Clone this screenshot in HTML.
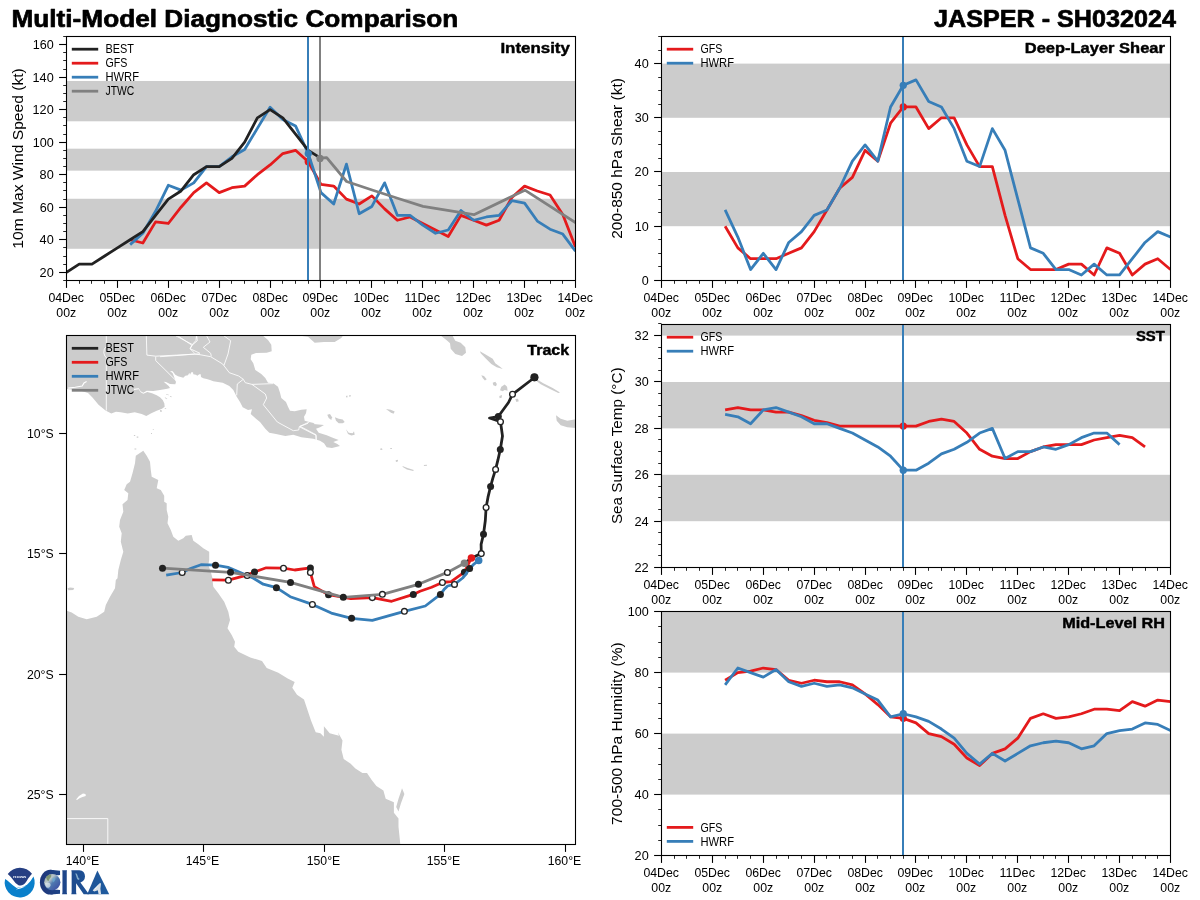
<!DOCTYPE html>
<html><head><meta charset="utf-8"><title>Multi-Model Diagnostic Comparison</title>
<style>html,body{margin:0;padding:0;background:#fff}svg{display:block;will-change:transform}text{font-family:"Liberation Sans",sans-serif;white-space:pre}</style></head>
<body>
<svg width="1200" height="900" viewBox="0 0 1200 900" font-family="'Liberation Sans', sans-serif">
<rect width="1200" height="900" fill="#fff"/>
<text x="11.50" y="26.80" font-size="24.22" font-weight="bold" stroke="#000" stroke-width="0.68" stroke-linejoin="round" textLength="446.75" lengthAdjust="spacingAndGlyphs" fill="#000">Multi-Model Diagnostic Comparison</text>
<text x="934.00" y="26.80" font-size="24.22" font-weight="bold" stroke="#000" stroke-width="0.68" stroke-linejoin="round" textLength="242.00" lengthAdjust="spacingAndGlyphs" fill="#000">JASPER - SH032024</text>
<clipPath id="c_int"><rect x="66.50" y="36.50" width="509.00" height="244.00"/></clipPath>
<g clip-path="url(#c_int)">
<rect x="66.50" y="198.77" width="509.00" height="50.00" fill="#cccccc"/>
<rect x="66.50" y="148.69" width="509.00" height="21.95" fill="#cccccc"/>
<rect x="66.50" y="80.97" width="509.00" height="40.32" fill="#cccccc"/>
<polyline points="130.12,239.75 142.85,243.00 155.57,221.86 168.30,223.49 181.02,207.23 193.75,192.60 206.47,182.84 219.19,192.60 231.92,187.72 244.64,186.09 257.37,174.71 270.09,164.95 282.82,153.57 295.54,150.32 308.27,161.70 320.99,184.47 333.71,186.09 346.44,199.10 359.16,203.98 371.89,195.85 384.61,208.86 397.34,220.24 410.06,216.99 422.79,223.49 435.51,229.99 448.24,236.50 460.96,215.36 473.68,220.24 486.41,225.12 499.13,220.24 511.86,197.47 524.58,186.09 537.31,190.97 550.03,195.03 562.76,214.55 575.48,247.07" fill="none" stroke="#e41a1c" stroke-width="2.78" stroke-linejoin="round" stroke-linecap="butt"/>
<circle cx="308.27" cy="161.70" r="3.65" fill="#e41a1c"/>
<polyline points="130.12,244.63 142.85,233.25 155.57,211.29 168.30,185.28 181.02,190.16 193.75,182.84 206.47,166.58 219.19,166.58 231.92,156.82 244.64,149.51 257.37,128.37 270.09,107.23 282.82,119.43 295.54,125.93 308.27,153.57 320.99,192.60 333.71,203.98 346.44,164.14 359.16,213.73 371.89,206.42 384.61,182.84 397.34,215.36 410.06,215.36 422.79,225.12 435.51,233.25 448.24,229.99 460.96,210.48 473.68,220.24 486.41,216.99 499.13,215.36 511.86,200.73 524.58,203.16 537.31,221.05 550.03,229.18 562.76,234.06 575.48,251.13" fill="none" stroke="#377eb8" stroke-width="2.78" stroke-linejoin="round" stroke-linecap="butt"/>
<polyline points="66.50,272.27 79.22,264.14 91.95,264.14 104.67,256.01 117.40,247.88 130.12,239.75 142.85,231.62 155.57,215.36 168.30,199.10 181.02,190.97 193.75,174.71 206.47,166.58 219.19,166.58 231.92,158.45 244.64,142.19 257.37,117.80 270.09,109.67 282.82,117.80 295.54,134.06 308.27,150.32 320.99,158.45" fill="none" stroke="#222222" stroke-width="2.78" stroke-linejoin="round" stroke-linecap="butt"/>
<polyline points="320.00,158.20 326.70,157.60 346.60,181.50 372.10,190.00 397.50,198.30 423.00,206.30 473.90,214.70 524.90,190.20 575.80,222.80" fill="none" stroke="#808080" stroke-width="2.78" stroke-linejoin="round"/>
<rect x="307.00" y="36.50" width="2" height="244.00" fill="#377eb8"/>
<rect x="319.00" y="36.50" width="2" height="244.00" fill="#808080"/>
<circle cx="308.27" cy="153.57" r="3.65" fill="#377eb8"/>
<circle cx="320.00" cy="158.45" r="3.65" fill="#808080"/>
</g>
<rect x="66.50" y="36.50" width="509.00" height="244.00" fill="none" stroke="#000" stroke-width="1.1"/>
<path d="M66.50 280.50V287.90" stroke="#000" stroke-width="1.1" fill="none"/>
<text x="48.39" y="301.80" font-size="12.67" textLength="35.62" lengthAdjust="spacingAndGlyphs" fill="#000">04Dec</text>
<text x="56.31" y="316.50" font-size="12.67" textLength="19.88" lengthAdjust="spacingAndGlyphs" fill="#000">00z</text>
<path d="M117.50 280.50V287.90" stroke="#000" stroke-width="1.1" fill="none"/>
<text x="99.45" y="301.80" font-size="12.67" textLength="35.50" lengthAdjust="spacingAndGlyphs" fill="#000">05Dec</text>
<text x="107.31" y="316.50" font-size="12.67" textLength="19.88" lengthAdjust="spacingAndGlyphs" fill="#000">00z</text>
<path d="M168.50 280.50V287.90" stroke="#000" stroke-width="1.1" fill="none"/>
<text x="150.45" y="301.80" font-size="12.67" textLength="35.50" lengthAdjust="spacingAndGlyphs" fill="#000">06Dec</text>
<text x="158.31" y="316.50" font-size="12.67" textLength="19.88" lengthAdjust="spacingAndGlyphs" fill="#000">00z</text>
<path d="M219.50 280.50V287.90" stroke="#000" stroke-width="1.1" fill="none"/>
<text x="201.39" y="301.80" font-size="12.67" textLength="35.62" lengthAdjust="spacingAndGlyphs" fill="#000">07Dec</text>
<text x="209.31" y="316.50" font-size="12.67" textLength="19.88" lengthAdjust="spacingAndGlyphs" fill="#000">00z</text>
<path d="M270.50 280.50V287.90" stroke="#000" stroke-width="1.1" fill="none"/>
<text x="252.39" y="301.80" font-size="12.67" textLength="35.62" lengthAdjust="spacingAndGlyphs" fill="#000">08Dec</text>
<text x="260.31" y="316.50" font-size="12.67" textLength="19.88" lengthAdjust="spacingAndGlyphs" fill="#000">00z</text>
<path d="M320.50 280.50V287.90" stroke="#000" stroke-width="1.1" fill="none"/>
<text x="302.39" y="301.80" font-size="12.67" textLength="35.62" lengthAdjust="spacingAndGlyphs" fill="#000">09Dec</text>
<text x="310.31" y="316.50" font-size="12.67" textLength="19.88" lengthAdjust="spacingAndGlyphs" fill="#000">00z</text>
<path d="M371.50 280.50V287.90" stroke="#000" stroke-width="1.1" fill="none"/>
<text x="353.45" y="301.80" font-size="12.67" textLength="35.50" lengthAdjust="spacingAndGlyphs" fill="#000">10Dec</text>
<text x="361.31" y="316.50" font-size="12.67" textLength="19.88" lengthAdjust="spacingAndGlyphs" fill="#000">00z</text>
<path d="M422.50 280.50V287.90" stroke="#000" stroke-width="1.1" fill="none"/>
<text x="404.45" y="301.80" font-size="12.67" textLength="35.50" lengthAdjust="spacingAndGlyphs" fill="#000">11Dec</text>
<text x="412.31" y="316.50" font-size="12.67" textLength="19.88" lengthAdjust="spacingAndGlyphs" fill="#000">00z</text>
<path d="M473.50 280.50V287.90" stroke="#000" stroke-width="1.1" fill="none"/>
<text x="455.39" y="301.80" font-size="12.67" textLength="35.62" lengthAdjust="spacingAndGlyphs" fill="#000">12Dec</text>
<text x="463.31" y="316.50" font-size="12.67" textLength="19.88" lengthAdjust="spacingAndGlyphs" fill="#000">00z</text>
<path d="M524.50 280.50V287.90" stroke="#000" stroke-width="1.1" fill="none"/>
<text x="506.45" y="301.80" font-size="12.67" textLength="35.50" lengthAdjust="spacingAndGlyphs" fill="#000">13Dec</text>
<text x="514.31" y="316.50" font-size="12.67" textLength="19.88" lengthAdjust="spacingAndGlyphs" fill="#000">00z</text>
<path d="M575.50 280.50V287.90" stroke="#000" stroke-width="1.1" fill="none"/>
<text x="557.39" y="301.80" font-size="12.67" textLength="35.62" lengthAdjust="spacingAndGlyphs" fill="#000">14Dec</text>
<text x="565.31" y="316.50" font-size="12.67" textLength="19.88" lengthAdjust="spacingAndGlyphs" fill="#000">00z</text>
<path d="M79.50 280.50V283.80" stroke="#000" stroke-width="0.85" fill="none"/>
<path d="M91.50 280.50V283.80" stroke="#000" stroke-width="0.85" fill="none"/>
<path d="M104.50 280.50V283.80" stroke="#000" stroke-width="0.85" fill="none"/>
<path d="M130.50 280.50V283.80" stroke="#000" stroke-width="0.85" fill="none"/>
<path d="M142.50 280.50V283.80" stroke="#000" stroke-width="0.85" fill="none"/>
<path d="M155.50 280.50V283.80" stroke="#000" stroke-width="0.85" fill="none"/>
<path d="M181.50 280.50V283.80" stroke="#000" stroke-width="0.85" fill="none"/>
<path d="M193.50 280.50V283.80" stroke="#000" stroke-width="0.85" fill="none"/>
<path d="M206.50 280.50V283.80" stroke="#000" stroke-width="0.85" fill="none"/>
<path d="M231.50 280.50V283.80" stroke="#000" stroke-width="0.85" fill="none"/>
<path d="M244.50 280.50V283.80" stroke="#000" stroke-width="0.85" fill="none"/>
<path d="M257.50 280.50V283.80" stroke="#000" stroke-width="0.85" fill="none"/>
<path d="M282.50 280.50V283.80" stroke="#000" stroke-width="0.85" fill="none"/>
<path d="M295.50 280.50V283.80" stroke="#000" stroke-width="0.85" fill="none"/>
<path d="M308.50 280.50V283.80" stroke="#000" stroke-width="0.85" fill="none"/>
<path d="M333.50 280.50V283.80" stroke="#000" stroke-width="0.85" fill="none"/>
<path d="M346.50 280.50V283.80" stroke="#000" stroke-width="0.85" fill="none"/>
<path d="M359.50 280.50V283.80" stroke="#000" stroke-width="0.85" fill="none"/>
<path d="M384.50 280.50V283.80" stroke="#000" stroke-width="0.85" fill="none"/>
<path d="M397.50 280.50V283.80" stroke="#000" stroke-width="0.85" fill="none"/>
<path d="M410.50 280.50V283.80" stroke="#000" stroke-width="0.85" fill="none"/>
<path d="M435.50 280.50V283.80" stroke="#000" stroke-width="0.85" fill="none"/>
<path d="M448.50 280.50V283.80" stroke="#000" stroke-width="0.85" fill="none"/>
<path d="M460.50 280.50V283.80" stroke="#000" stroke-width="0.85" fill="none"/>
<path d="M486.50 280.50V283.80" stroke="#000" stroke-width="0.85" fill="none"/>
<path d="M499.50 280.50V283.80" stroke="#000" stroke-width="0.85" fill="none"/>
<path d="M511.50 280.50V283.80" stroke="#000" stroke-width="0.85" fill="none"/>
<path d="M537.50 280.50V283.80" stroke="#000" stroke-width="0.85" fill="none"/>
<path d="M550.50 280.50V283.80" stroke="#000" stroke-width="0.85" fill="none"/>
<path d="M562.50 280.50V283.80" stroke="#000" stroke-width="0.85" fill="none"/>
<path d="M59.10 272.50H66.50" stroke="#000" stroke-width="1.1" fill="none"/>
<text x="39.58" y="276.70" font-size="12.67" textLength="14.12" lengthAdjust="spacingAndGlyphs" fill="#000">20</text>
<path d="M59.10 239.50H66.50" stroke="#000" stroke-width="1.1" fill="none"/>
<text x="39.58" y="243.70" font-size="12.67" textLength="14.12" lengthAdjust="spacingAndGlyphs" fill="#000">40</text>
<path d="M59.10 207.50H66.50" stroke="#000" stroke-width="1.1" fill="none"/>
<text x="39.70" y="211.70" font-size="12.67" textLength="14.00" lengthAdjust="spacingAndGlyphs" fill="#000">60</text>
<path d="M59.10 174.50H66.50" stroke="#000" stroke-width="1.1" fill="none"/>
<text x="39.58" y="178.70" font-size="12.67" textLength="14.12" lengthAdjust="spacingAndGlyphs" fill="#000">80</text>
<path d="M59.10 142.50H66.50" stroke="#000" stroke-width="1.1" fill="none"/>
<text x="32.70" y="146.70" font-size="12.67" textLength="21.00" lengthAdjust="spacingAndGlyphs" fill="#000">100</text>
<path d="M59.10 109.50H66.50" stroke="#000" stroke-width="1.1" fill="none"/>
<text x="32.58" y="113.70" font-size="12.67" textLength="21.12" lengthAdjust="spacingAndGlyphs" fill="#000">120</text>
<path d="M59.10 77.50H66.50" stroke="#000" stroke-width="1.1" fill="none"/>
<text x="32.58" y="81.70" font-size="12.67" textLength="21.12" lengthAdjust="spacingAndGlyphs" fill="#000">140</text>
<path d="M59.10 44.50H66.50" stroke="#000" stroke-width="1.1" fill="none"/>
<text x="32.70" y="48.70" font-size="12.67" textLength="21.00" lengthAdjust="spacingAndGlyphs" fill="#000">160</text>
<path d="M63.20 280.50H66.50" stroke="#000" stroke-width="0.85" fill="none"/>
<path d="M63.20 264.50H66.50" stroke="#000" stroke-width="0.85" fill="none"/>
<path d="M63.20 256.50H66.50" stroke="#000" stroke-width="0.85" fill="none"/>
<path d="M63.20 247.50H66.50" stroke="#000" stroke-width="0.85" fill="none"/>
<path d="M63.20 231.50H66.50" stroke="#000" stroke-width="0.85" fill="none"/>
<path d="M63.20 223.50H66.50" stroke="#000" stroke-width="0.85" fill="none"/>
<path d="M63.20 215.50H66.50" stroke="#000" stroke-width="0.85" fill="none"/>
<path d="M63.20 199.50H66.50" stroke="#000" stroke-width="0.85" fill="none"/>
<path d="M63.20 190.50H66.50" stroke="#000" stroke-width="0.85" fill="none"/>
<path d="M63.20 182.50H66.50" stroke="#000" stroke-width="0.85" fill="none"/>
<path d="M63.20 166.50H66.50" stroke="#000" stroke-width="0.85" fill="none"/>
<path d="M63.20 158.50H66.50" stroke="#000" stroke-width="0.85" fill="none"/>
<path d="M63.20 150.50H66.50" stroke="#000" stroke-width="0.85" fill="none"/>
<path d="M63.20 134.50H66.50" stroke="#000" stroke-width="0.85" fill="none"/>
<path d="M63.20 125.50H66.50" stroke="#000" stroke-width="0.85" fill="none"/>
<path d="M63.20 117.50H66.50" stroke="#000" stroke-width="0.85" fill="none"/>
<path d="M63.20 101.50H66.50" stroke="#000" stroke-width="0.85" fill="none"/>
<path d="M63.20 93.50H66.50" stroke="#000" stroke-width="0.85" fill="none"/>
<path d="M63.20 85.50H66.50" stroke="#000" stroke-width="0.85" fill="none"/>
<path d="M63.20 69.50H66.50" stroke="#000" stroke-width="0.85" fill="none"/>
<path d="M63.20 60.50H66.50" stroke="#000" stroke-width="0.85" fill="none"/>
<path d="M63.20 52.50H66.50" stroke="#000" stroke-width="0.85" fill="none"/>
<path d="M63.20 36.50H66.50" stroke="#000" stroke-width="0.85" fill="none"/>
<text transform="translate(22.60,248.70) rotate(-90)" font-size="15.56" textLength="180.50" lengthAdjust="spacingAndGlyphs" fill="#000">10m Max Wind Speed (kt)</text>
<text x="500.40" y="53.30" font-size="15.56" font-weight="bold" stroke="#000" stroke-width="0.44" stroke-linejoin="round" textLength="69.50" lengthAdjust="spacingAndGlyphs" fill="#000">Intensity</text>
<path d="M71.80 49.20H98.20" stroke="#222222" stroke-width="2.78"/>
<text x="105.50" y="53.30" font-size="12.67" textLength="28.50" lengthAdjust="spacingAndGlyphs" fill="#000">BEST</text>
<path d="M71.80 63.20H98.20" stroke="#e41a1c" stroke-width="2.78"/>
<text x="105.50" y="67.30" font-size="12.67" textLength="21.88" lengthAdjust="spacingAndGlyphs" fill="#000">GFS</text>
<path d="M71.80 77.20H98.20" stroke="#377eb8" stroke-width="2.78"/>
<text x="105.50" y="81.30" font-size="12.67" textLength="33.50" lengthAdjust="spacingAndGlyphs" fill="#000">HWRF</text>
<path d="M71.80 91.20H98.20" stroke="#808080" stroke-width="2.78"/>
<text x="105.50" y="95.30" font-size="12.67" textLength="28.75" lengthAdjust="spacingAndGlyphs" fill="#000">JTWC</text>
<clipPath id="c_shr"><rect x="661.50" y="36.50" width="509.00" height="244.00"/></clipPath>
<g clip-path="url(#c_shr)">
<rect x="661.50" y="172.00" width="509.00" height="54.20" fill="#cccccc"/>
<rect x="661.50" y="63.60" width="509.00" height="54.20" fill="#cccccc"/>
<polyline points="725.12,226.20 737.85,247.88 750.57,258.72 763.30,258.72 776.02,258.72 788.75,253.30 801.47,247.88 814.19,231.62 826.92,209.94 839.64,188.26 852.37,177.42 865.09,150.32 877.82,161.16 890.54,123.22 903.27,106.96 915.99,106.96 928.71,128.64 941.44,117.80 954.16,117.80 966.89,144.90 979.61,166.58 992.34,166.58 1005.06,215.36 1017.79,258.72 1030.51,269.56 1043.24,269.56 1055.96,269.56 1068.68,264.14 1081.41,264.14 1094.13,274.98 1106.86,247.88 1119.58,253.30 1132.31,274.98 1145.03,264.14 1157.76,258.72 1170.48,269.56" fill="none" stroke="#e41a1c" stroke-width="2.78" stroke-linejoin="round" stroke-linecap="butt"/>
<circle cx="903.27" cy="106.96" r="3.65" fill="#e41a1c"/>
<polyline points="725.12,209.94 737.85,237.04 750.57,269.56 763.30,253.30 776.02,269.56 788.75,242.46 801.47,231.62 814.19,215.36 826.92,209.94 839.64,188.26 852.37,161.16 865.09,144.90 877.82,161.16 890.54,106.96 903.27,85.28 915.99,79.86 928.71,101.54 941.44,106.96 954.16,128.64 966.89,161.16 979.61,166.58 992.34,128.64 1005.06,150.32 1017.79,199.10 1030.51,247.88 1043.24,253.30 1055.96,269.56 1068.68,269.56 1081.41,274.98 1094.13,264.14 1106.86,274.98 1119.58,274.98 1132.31,258.72 1145.03,242.46 1157.76,231.62 1170.48,237.04" fill="none" stroke="#377eb8" stroke-width="2.78" stroke-linejoin="round" stroke-linecap="butt"/>
<rect x="902.00" y="36.50" width="2" height="244.00" fill="#377eb8"/>
<circle cx="903.27" cy="85.28" r="3.65" fill="#377eb8"/>
</g>
<rect x="661.50" y="36.50" width="509.00" height="244.00" fill="none" stroke="#000" stroke-width="1.1"/>
<path d="M661.50 280.50V287.90" stroke="#000" stroke-width="1.1" fill="none"/>
<text x="643.39" y="301.80" font-size="12.67" textLength="35.62" lengthAdjust="spacingAndGlyphs" fill="#000">04Dec</text>
<text x="651.31" y="316.50" font-size="12.67" textLength="19.88" lengthAdjust="spacingAndGlyphs" fill="#000">00z</text>
<path d="M712.50 280.50V287.90" stroke="#000" stroke-width="1.1" fill="none"/>
<text x="694.45" y="301.80" font-size="12.67" textLength="35.50" lengthAdjust="spacingAndGlyphs" fill="#000">05Dec</text>
<text x="702.31" y="316.50" font-size="12.67" textLength="19.88" lengthAdjust="spacingAndGlyphs" fill="#000">00z</text>
<path d="M763.50 280.50V287.90" stroke="#000" stroke-width="1.1" fill="none"/>
<text x="745.45" y="301.80" font-size="12.67" textLength="35.50" lengthAdjust="spacingAndGlyphs" fill="#000">06Dec</text>
<text x="753.31" y="316.50" font-size="12.67" textLength="19.88" lengthAdjust="spacingAndGlyphs" fill="#000">00z</text>
<path d="M814.50 280.50V287.90" stroke="#000" stroke-width="1.1" fill="none"/>
<text x="796.39" y="301.80" font-size="12.67" textLength="35.62" lengthAdjust="spacingAndGlyphs" fill="#000">07Dec</text>
<text x="804.31" y="316.50" font-size="12.67" textLength="19.88" lengthAdjust="spacingAndGlyphs" fill="#000">00z</text>
<path d="M865.50 280.50V287.90" stroke="#000" stroke-width="1.1" fill="none"/>
<text x="847.39" y="301.80" font-size="12.67" textLength="35.62" lengthAdjust="spacingAndGlyphs" fill="#000">08Dec</text>
<text x="855.31" y="316.50" font-size="12.67" textLength="19.88" lengthAdjust="spacingAndGlyphs" fill="#000">00z</text>
<path d="M915.50 280.50V287.90" stroke="#000" stroke-width="1.1" fill="none"/>
<text x="897.39" y="301.80" font-size="12.67" textLength="35.62" lengthAdjust="spacingAndGlyphs" fill="#000">09Dec</text>
<text x="905.31" y="316.50" font-size="12.67" textLength="19.88" lengthAdjust="spacingAndGlyphs" fill="#000">00z</text>
<path d="M966.50 280.50V287.90" stroke="#000" stroke-width="1.1" fill="none"/>
<text x="948.45" y="301.80" font-size="12.67" textLength="35.50" lengthAdjust="spacingAndGlyphs" fill="#000">10Dec</text>
<text x="956.31" y="316.50" font-size="12.67" textLength="19.88" lengthAdjust="spacingAndGlyphs" fill="#000">00z</text>
<path d="M1017.50 280.50V287.90" stroke="#000" stroke-width="1.1" fill="none"/>
<text x="999.45" y="301.80" font-size="12.67" textLength="35.50" lengthAdjust="spacingAndGlyphs" fill="#000">11Dec</text>
<text x="1007.31" y="316.50" font-size="12.67" textLength="19.88" lengthAdjust="spacingAndGlyphs" fill="#000">00z</text>
<path d="M1068.50 280.50V287.90" stroke="#000" stroke-width="1.1" fill="none"/>
<text x="1050.39" y="301.80" font-size="12.67" textLength="35.62" lengthAdjust="spacingAndGlyphs" fill="#000">12Dec</text>
<text x="1058.31" y="316.50" font-size="12.67" textLength="19.88" lengthAdjust="spacingAndGlyphs" fill="#000">00z</text>
<path d="M1119.50 280.50V287.90" stroke="#000" stroke-width="1.1" fill="none"/>
<text x="1101.45" y="301.80" font-size="12.67" textLength="35.50" lengthAdjust="spacingAndGlyphs" fill="#000">13Dec</text>
<text x="1109.31" y="316.50" font-size="12.67" textLength="19.88" lengthAdjust="spacingAndGlyphs" fill="#000">00z</text>
<path d="M1170.50 280.50V287.90" stroke="#000" stroke-width="1.1" fill="none"/>
<text x="1152.39" y="301.80" font-size="12.67" textLength="35.62" lengthAdjust="spacingAndGlyphs" fill="#000">14Dec</text>
<text x="1160.31" y="316.50" font-size="12.67" textLength="19.88" lengthAdjust="spacingAndGlyphs" fill="#000">00z</text>
<path d="M674.50 280.50V283.80" stroke="#000" stroke-width="0.85" fill="none"/>
<path d="M686.50 280.50V283.80" stroke="#000" stroke-width="0.85" fill="none"/>
<path d="M699.50 280.50V283.80" stroke="#000" stroke-width="0.85" fill="none"/>
<path d="M725.50 280.50V283.80" stroke="#000" stroke-width="0.85" fill="none"/>
<path d="M737.50 280.50V283.80" stroke="#000" stroke-width="0.85" fill="none"/>
<path d="M750.50 280.50V283.80" stroke="#000" stroke-width="0.85" fill="none"/>
<path d="M776.50 280.50V283.80" stroke="#000" stroke-width="0.85" fill="none"/>
<path d="M788.50 280.50V283.80" stroke="#000" stroke-width="0.85" fill="none"/>
<path d="M801.50 280.50V283.80" stroke="#000" stroke-width="0.85" fill="none"/>
<path d="M826.50 280.50V283.80" stroke="#000" stroke-width="0.85" fill="none"/>
<path d="M839.50 280.50V283.80" stroke="#000" stroke-width="0.85" fill="none"/>
<path d="M852.50 280.50V283.80" stroke="#000" stroke-width="0.85" fill="none"/>
<path d="M877.50 280.50V283.80" stroke="#000" stroke-width="0.85" fill="none"/>
<path d="M890.50 280.50V283.80" stroke="#000" stroke-width="0.85" fill="none"/>
<path d="M903.50 280.50V283.80" stroke="#000" stroke-width="0.85" fill="none"/>
<path d="M928.50 280.50V283.80" stroke="#000" stroke-width="0.85" fill="none"/>
<path d="M941.50 280.50V283.80" stroke="#000" stroke-width="0.85" fill="none"/>
<path d="M954.50 280.50V283.80" stroke="#000" stroke-width="0.85" fill="none"/>
<path d="M979.50 280.50V283.80" stroke="#000" stroke-width="0.85" fill="none"/>
<path d="M992.50 280.50V283.80" stroke="#000" stroke-width="0.85" fill="none"/>
<path d="M1005.50 280.50V283.80" stroke="#000" stroke-width="0.85" fill="none"/>
<path d="M1030.50 280.50V283.80" stroke="#000" stroke-width="0.85" fill="none"/>
<path d="M1043.50 280.50V283.80" stroke="#000" stroke-width="0.85" fill="none"/>
<path d="M1055.50 280.50V283.80" stroke="#000" stroke-width="0.85" fill="none"/>
<path d="M1081.50 280.50V283.80" stroke="#000" stroke-width="0.85" fill="none"/>
<path d="M1094.50 280.50V283.80" stroke="#000" stroke-width="0.85" fill="none"/>
<path d="M1106.50 280.50V283.80" stroke="#000" stroke-width="0.85" fill="none"/>
<path d="M1132.50 280.50V283.80" stroke="#000" stroke-width="0.85" fill="none"/>
<path d="M1145.50 280.50V283.80" stroke="#000" stroke-width="0.85" fill="none"/>
<path d="M1157.50 280.50V283.80" stroke="#000" stroke-width="0.85" fill="none"/>
<path d="M654.10 280.50H661.50" stroke="#000" stroke-width="1.1" fill="none"/>
<text x="641.70" y="284.70" font-size="12.67" textLength="7.00" lengthAdjust="spacingAndGlyphs" fill="#000">0</text>
<path d="M654.10 226.50H661.50" stroke="#000" stroke-width="1.1" fill="none"/>
<text x="634.70" y="230.70" font-size="12.67" textLength="14.00" lengthAdjust="spacingAndGlyphs" fill="#000">10</text>
<path d="M654.10 171.50H661.50" stroke="#000" stroke-width="1.1" fill="none"/>
<text x="634.58" y="175.70" font-size="12.67" textLength="14.12" lengthAdjust="spacingAndGlyphs" fill="#000">20</text>
<path d="M654.10 117.50H661.50" stroke="#000" stroke-width="1.1" fill="none"/>
<text x="634.70" y="121.70" font-size="12.67" textLength="14.00" lengthAdjust="spacingAndGlyphs" fill="#000">30</text>
<path d="M654.10 63.50H661.50" stroke="#000" stroke-width="1.1" fill="none"/>
<text x="634.58" y="67.70" font-size="12.67" textLength="14.12" lengthAdjust="spacingAndGlyphs" fill="#000">40</text>
<path d="M658.20 266.50H661.50" stroke="#000" stroke-width="0.85" fill="none"/>
<path d="M658.20 253.50H661.50" stroke="#000" stroke-width="0.85" fill="none"/>
<path d="M658.20 239.50H661.50" stroke="#000" stroke-width="0.85" fill="none"/>
<path d="M658.20 212.50H661.50" stroke="#000" stroke-width="0.85" fill="none"/>
<path d="M658.20 199.50H661.50" stroke="#000" stroke-width="0.85" fill="none"/>
<path d="M658.20 185.50H661.50" stroke="#000" stroke-width="0.85" fill="none"/>
<path d="M658.20 158.50H661.50" stroke="#000" stroke-width="0.85" fill="none"/>
<path d="M658.20 144.50H661.50" stroke="#000" stroke-width="0.85" fill="none"/>
<path d="M658.20 131.50H661.50" stroke="#000" stroke-width="0.85" fill="none"/>
<path d="M658.20 104.50H661.50" stroke="#000" stroke-width="0.85" fill="none"/>
<path d="M658.20 90.50H661.50" stroke="#000" stroke-width="0.85" fill="none"/>
<path d="M658.20 77.50H661.50" stroke="#000" stroke-width="0.85" fill="none"/>
<path d="M658.20 50.50H661.50" stroke="#000" stroke-width="0.85" fill="none"/>
<path d="M658.20 36.50H661.50" stroke="#000" stroke-width="0.85" fill="none"/>
<text transform="translate(622.30,238.76) rotate(-90)" font-size="15.56" textLength="160.62" lengthAdjust="spacingAndGlyphs" fill="#000">200-850 hPa Shear (kt)</text>
<text x="1024.78" y="53.30" font-size="15.56" font-weight="bold" stroke="#000" stroke-width="0.44" stroke-linejoin="round" textLength="140.12" lengthAdjust="spacingAndGlyphs" fill="#000">Deep-Layer Shear</text>
<path d="M666.80 49.20H693.20" stroke="#e41a1c" stroke-width="2.78"/>
<text x="700.50" y="53.30" font-size="12.67" textLength="21.88" lengthAdjust="spacingAndGlyphs" fill="#000">GFS</text>
<path d="M666.80 63.20H693.20" stroke="#377eb8" stroke-width="2.78"/>
<text x="700.50" y="67.30" font-size="12.67" textLength="33.50" lengthAdjust="spacingAndGlyphs" fill="#000">HWRF</text>
<clipPath id="c_sst"><rect x="661.50" y="324.50" width="509.00" height="243.00"/></clipPath>
<g clip-path="url(#c_sst)">
<rect x="661.50" y="474.80" width="509.00" height="46.40" fill="#cccccc"/>
<rect x="661.50" y="382.00" width="509.00" height="46.40" fill="#cccccc"/>
<rect x="661.50" y="312.40" width="509.00" height="23.20" fill="#cccccc"/>
<polyline points="725.12,409.84 737.85,407.52 750.57,409.84 763.30,409.84 776.02,412.16 788.75,412.16 801.47,415.64 814.19,420.28 826.92,422.60 839.64,426.08 852.37,426.08 865.09,426.08 877.82,426.08 890.54,426.08 903.27,426.08 915.99,426.08 928.71,421.44 941.44,419.12 954.16,421.44 966.89,433.04 979.61,449.28 992.34,456.24 1005.06,458.56 1017.79,458.56 1030.51,451.60 1043.24,446.96 1055.96,444.64 1068.68,444.64 1081.41,444.64 1094.13,440.00 1106.86,437.68 1119.58,435.36 1132.31,437.68 1145.03,446.96" fill="none" stroke="#e41a1c" stroke-width="2.78" stroke-linejoin="round" stroke-linecap="butt"/>
<circle cx="903.27" cy="426.08" r="3.65" fill="#e41a1c"/>
<polyline points="725.12,414.48 737.85,416.80 750.57,423.76 763.30,409.84 776.02,407.52 788.75,412.16 801.47,416.80 814.19,423.76 826.92,423.76 839.64,428.40 852.37,433.04 865.09,440.00 877.82,446.96 890.54,456.24 903.27,470.16 915.99,470.16 928.71,463.20 941.44,453.92 954.16,449.28 966.89,442.32 979.61,433.04 992.34,428.40 1005.06,458.56 1017.79,451.60 1030.51,451.60 1043.24,446.96 1055.96,449.28 1068.68,444.64 1081.41,437.68 1094.13,433.04 1106.86,433.04 1119.58,444.64" fill="none" stroke="#377eb8" stroke-width="2.78" stroke-linejoin="round" stroke-linecap="butt"/>
<rect x="902.00" y="324.50" width="2" height="243.00" fill="#377eb8"/>
<circle cx="903.27" cy="470.16" r="3.65" fill="#377eb8"/>
</g>
<rect x="661.50" y="324.50" width="509.00" height="243.00" fill="none" stroke="#000" stroke-width="1.1"/>
<path d="M661.50 567.50V574.90" stroke="#000" stroke-width="1.1" fill="none"/>
<text x="643.39" y="588.80" font-size="12.67" textLength="35.62" lengthAdjust="spacingAndGlyphs" fill="#000">04Dec</text>
<text x="651.31" y="603.50" font-size="12.67" textLength="19.88" lengthAdjust="spacingAndGlyphs" fill="#000">00z</text>
<path d="M712.50 567.50V574.90" stroke="#000" stroke-width="1.1" fill="none"/>
<text x="694.45" y="588.80" font-size="12.67" textLength="35.50" lengthAdjust="spacingAndGlyphs" fill="#000">05Dec</text>
<text x="702.31" y="603.50" font-size="12.67" textLength="19.88" lengthAdjust="spacingAndGlyphs" fill="#000">00z</text>
<path d="M763.50 567.50V574.90" stroke="#000" stroke-width="1.1" fill="none"/>
<text x="745.45" y="588.80" font-size="12.67" textLength="35.50" lengthAdjust="spacingAndGlyphs" fill="#000">06Dec</text>
<text x="753.31" y="603.50" font-size="12.67" textLength="19.88" lengthAdjust="spacingAndGlyphs" fill="#000">00z</text>
<path d="M814.50 567.50V574.90" stroke="#000" stroke-width="1.1" fill="none"/>
<text x="796.39" y="588.80" font-size="12.67" textLength="35.62" lengthAdjust="spacingAndGlyphs" fill="#000">07Dec</text>
<text x="804.31" y="603.50" font-size="12.67" textLength="19.88" lengthAdjust="spacingAndGlyphs" fill="#000">00z</text>
<path d="M865.50 567.50V574.90" stroke="#000" stroke-width="1.1" fill="none"/>
<text x="847.39" y="588.80" font-size="12.67" textLength="35.62" lengthAdjust="spacingAndGlyphs" fill="#000">08Dec</text>
<text x="855.31" y="603.50" font-size="12.67" textLength="19.88" lengthAdjust="spacingAndGlyphs" fill="#000">00z</text>
<path d="M915.50 567.50V574.90" stroke="#000" stroke-width="1.1" fill="none"/>
<text x="897.39" y="588.80" font-size="12.67" textLength="35.62" lengthAdjust="spacingAndGlyphs" fill="#000">09Dec</text>
<text x="905.31" y="603.50" font-size="12.67" textLength="19.88" lengthAdjust="spacingAndGlyphs" fill="#000">00z</text>
<path d="M966.50 567.50V574.90" stroke="#000" stroke-width="1.1" fill="none"/>
<text x="948.45" y="588.80" font-size="12.67" textLength="35.50" lengthAdjust="spacingAndGlyphs" fill="#000">10Dec</text>
<text x="956.31" y="603.50" font-size="12.67" textLength="19.88" lengthAdjust="spacingAndGlyphs" fill="#000">00z</text>
<path d="M1017.50 567.50V574.90" stroke="#000" stroke-width="1.1" fill="none"/>
<text x="999.45" y="588.80" font-size="12.67" textLength="35.50" lengthAdjust="spacingAndGlyphs" fill="#000">11Dec</text>
<text x="1007.31" y="603.50" font-size="12.67" textLength="19.88" lengthAdjust="spacingAndGlyphs" fill="#000">00z</text>
<path d="M1068.50 567.50V574.90" stroke="#000" stroke-width="1.1" fill="none"/>
<text x="1050.39" y="588.80" font-size="12.67" textLength="35.62" lengthAdjust="spacingAndGlyphs" fill="#000">12Dec</text>
<text x="1058.31" y="603.50" font-size="12.67" textLength="19.88" lengthAdjust="spacingAndGlyphs" fill="#000">00z</text>
<path d="M1119.50 567.50V574.90" stroke="#000" stroke-width="1.1" fill="none"/>
<text x="1101.45" y="588.80" font-size="12.67" textLength="35.50" lengthAdjust="spacingAndGlyphs" fill="#000">13Dec</text>
<text x="1109.31" y="603.50" font-size="12.67" textLength="19.88" lengthAdjust="spacingAndGlyphs" fill="#000">00z</text>
<path d="M1170.50 567.50V574.90" stroke="#000" stroke-width="1.1" fill="none"/>
<text x="1152.39" y="588.80" font-size="12.67" textLength="35.62" lengthAdjust="spacingAndGlyphs" fill="#000">14Dec</text>
<text x="1160.31" y="603.50" font-size="12.67" textLength="19.88" lengthAdjust="spacingAndGlyphs" fill="#000">00z</text>
<path d="M674.50 567.50V570.80" stroke="#000" stroke-width="0.85" fill="none"/>
<path d="M686.50 567.50V570.80" stroke="#000" stroke-width="0.85" fill="none"/>
<path d="M699.50 567.50V570.80" stroke="#000" stroke-width="0.85" fill="none"/>
<path d="M725.50 567.50V570.80" stroke="#000" stroke-width="0.85" fill="none"/>
<path d="M737.50 567.50V570.80" stroke="#000" stroke-width="0.85" fill="none"/>
<path d="M750.50 567.50V570.80" stroke="#000" stroke-width="0.85" fill="none"/>
<path d="M776.50 567.50V570.80" stroke="#000" stroke-width="0.85" fill="none"/>
<path d="M788.50 567.50V570.80" stroke="#000" stroke-width="0.85" fill="none"/>
<path d="M801.50 567.50V570.80" stroke="#000" stroke-width="0.85" fill="none"/>
<path d="M826.50 567.50V570.80" stroke="#000" stroke-width="0.85" fill="none"/>
<path d="M839.50 567.50V570.80" stroke="#000" stroke-width="0.85" fill="none"/>
<path d="M852.50 567.50V570.80" stroke="#000" stroke-width="0.85" fill="none"/>
<path d="M877.50 567.50V570.80" stroke="#000" stroke-width="0.85" fill="none"/>
<path d="M890.50 567.50V570.80" stroke="#000" stroke-width="0.85" fill="none"/>
<path d="M903.50 567.50V570.80" stroke="#000" stroke-width="0.85" fill="none"/>
<path d="M928.50 567.50V570.80" stroke="#000" stroke-width="0.85" fill="none"/>
<path d="M941.50 567.50V570.80" stroke="#000" stroke-width="0.85" fill="none"/>
<path d="M954.50 567.50V570.80" stroke="#000" stroke-width="0.85" fill="none"/>
<path d="M979.50 567.50V570.80" stroke="#000" stroke-width="0.85" fill="none"/>
<path d="M992.50 567.50V570.80" stroke="#000" stroke-width="0.85" fill="none"/>
<path d="M1005.50 567.50V570.80" stroke="#000" stroke-width="0.85" fill="none"/>
<path d="M1030.50 567.50V570.80" stroke="#000" stroke-width="0.85" fill="none"/>
<path d="M1043.50 567.50V570.80" stroke="#000" stroke-width="0.85" fill="none"/>
<path d="M1055.50 567.50V570.80" stroke="#000" stroke-width="0.85" fill="none"/>
<path d="M1081.50 567.50V570.80" stroke="#000" stroke-width="0.85" fill="none"/>
<path d="M1094.50 567.50V570.80" stroke="#000" stroke-width="0.85" fill="none"/>
<path d="M1106.50 567.50V570.80" stroke="#000" stroke-width="0.85" fill="none"/>
<path d="M1132.50 567.50V570.80" stroke="#000" stroke-width="0.85" fill="none"/>
<path d="M1145.50 567.50V570.80" stroke="#000" stroke-width="0.85" fill="none"/>
<path d="M1157.50 567.50V570.80" stroke="#000" stroke-width="0.85" fill="none"/>
<path d="M654.10 567.50H661.50" stroke="#000" stroke-width="1.1" fill="none"/>
<text x="634.45" y="571.70" font-size="12.67" textLength="14.25" lengthAdjust="spacingAndGlyphs" fill="#000">22</text>
<path d="M654.10 521.50H661.50" stroke="#000" stroke-width="1.1" fill="none"/>
<text x="634.45" y="525.70" font-size="12.67" textLength="14.25" lengthAdjust="spacingAndGlyphs" fill="#000">24</text>
<path d="M654.10 474.50H661.50" stroke="#000" stroke-width="1.1" fill="none"/>
<text x="634.58" y="478.70" font-size="12.67" textLength="14.12" lengthAdjust="spacingAndGlyphs" fill="#000">26</text>
<path d="M654.10 428.50H661.50" stroke="#000" stroke-width="1.1" fill="none"/>
<text x="634.45" y="432.70" font-size="12.67" textLength="14.25" lengthAdjust="spacingAndGlyphs" fill="#000">28</text>
<path d="M654.10 381.50H661.50" stroke="#000" stroke-width="1.1" fill="none"/>
<text x="634.70" y="385.70" font-size="12.67" textLength="14.00" lengthAdjust="spacingAndGlyphs" fill="#000">30</text>
<path d="M654.10 335.50H661.50" stroke="#000" stroke-width="1.1" fill="none"/>
<text x="634.58" y="339.70" font-size="12.67" textLength="14.12" lengthAdjust="spacingAndGlyphs" fill="#000">32</text>
<path d="M658.20 555.50H661.50" stroke="#000" stroke-width="0.85" fill="none"/>
<path d="M658.20 544.50H661.50" stroke="#000" stroke-width="0.85" fill="none"/>
<path d="M658.20 532.50H661.50" stroke="#000" stroke-width="0.85" fill="none"/>
<path d="M658.20 509.50H661.50" stroke="#000" stroke-width="0.85" fill="none"/>
<path d="M658.20 497.50H661.50" stroke="#000" stroke-width="0.85" fill="none"/>
<path d="M658.20 486.50H661.50" stroke="#000" stroke-width="0.85" fill="none"/>
<path d="M658.20 463.50H661.50" stroke="#000" stroke-width="0.85" fill="none"/>
<path d="M658.20 451.50H661.50" stroke="#000" stroke-width="0.85" fill="none"/>
<path d="M658.20 439.50H661.50" stroke="#000" stroke-width="0.85" fill="none"/>
<path d="M658.20 416.50H661.50" stroke="#000" stroke-width="0.85" fill="none"/>
<path d="M658.20 405.50H661.50" stroke="#000" stroke-width="0.85" fill="none"/>
<path d="M658.20 393.50H661.50" stroke="#000" stroke-width="0.85" fill="none"/>
<path d="M658.20 370.50H661.50" stroke="#000" stroke-width="0.85" fill="none"/>
<path d="M658.20 358.50H661.50" stroke="#000" stroke-width="0.85" fill="none"/>
<path d="M658.20 347.50H661.50" stroke="#000" stroke-width="0.85" fill="none"/>
<path d="M658.20 323.50H661.50" stroke="#000" stroke-width="0.85" fill="none"/>
<text transform="translate(622.30,524.11) rotate(-90)" font-size="15.56" textLength="156.62" lengthAdjust="spacingAndGlyphs" fill="#000">Sea Surface Temp (°C)</text>
<text x="1135.90" y="341.30" font-size="15.56" font-weight="bold" stroke="#000" stroke-width="0.44" stroke-linejoin="round" textLength="29.00" lengthAdjust="spacingAndGlyphs" fill="#000">SST</text>
<path d="M666.80 337.20H693.20" stroke="#e41a1c" stroke-width="2.78"/>
<text x="700.50" y="341.30" font-size="12.67" textLength="21.88" lengthAdjust="spacingAndGlyphs" fill="#000">GFS</text>
<path d="M666.80 351.20H693.20" stroke="#377eb8" stroke-width="2.78"/>
<text x="700.50" y="355.30" font-size="12.67" textLength="33.50" lengthAdjust="spacingAndGlyphs" fill="#000">HWRF</text>
<clipPath id="c_rh"><rect x="661.50" y="611.50" width="509.00" height="244.00"/></clipPath>
<g clip-path="url(#c_rh)">
<rect x="661.50" y="733.60" width="509.00" height="61.00" fill="#cccccc"/>
<rect x="661.50" y="611.60" width="509.00" height="61.00" fill="#cccccc"/>
<polyline points="725.12,680.23 737.85,672.60 750.57,671.08 763.30,668.02 776.02,669.55 788.75,680.23 801.47,683.27 814.19,680.23 826.92,681.75 839.64,681.75 852.37,684.80 865.09,693.95 877.82,704.62 890.54,716.83 903.27,718.35 915.99,722.93 928.71,733.60 941.44,736.65 954.16,744.27 966.89,758.00 979.61,765.62 992.34,753.43 1005.06,748.85 1017.79,738.18 1030.51,718.35 1043.24,713.77 1055.96,718.35 1068.68,716.83 1081.41,713.77 1094.13,709.20 1106.86,709.20 1119.58,710.73 1132.31,701.58 1145.03,706.15 1157.76,700.05 1170.48,701.58" fill="none" stroke="#e41a1c" stroke-width="2.78" stroke-linejoin="round" stroke-linecap="butt"/>
<circle cx="903.27" cy="718.35" r="3.65" fill="#e41a1c"/>
<polyline points="725.12,684.80 737.85,668.02 750.57,672.60 763.30,677.18 776.02,669.55 788.75,681.75 801.47,686.33 814.19,683.27 826.92,686.33 839.64,684.80 852.37,687.85 865.09,693.95 877.82,700.05 890.54,716.83 903.27,713.77 915.99,716.83 928.71,721.40 941.44,729.02 954.16,738.18 966.89,753.43 979.61,764.10 992.34,753.43 1005.06,761.05 1017.79,753.43 1030.51,745.80 1043.24,742.75 1055.96,741.23 1068.68,742.75 1081.41,748.85 1094.13,745.80 1106.86,733.60 1119.58,730.55 1132.31,729.02 1145.03,722.93 1157.76,724.45 1170.48,730.55" fill="none" stroke="#377eb8" stroke-width="2.78" stroke-linejoin="round" stroke-linecap="butt"/>
<rect x="902.00" y="611.50" width="2" height="244.00" fill="#377eb8"/>
<circle cx="903.27" cy="713.77" r="3.65" fill="#377eb8"/>
</g>
<rect x="661.50" y="611.50" width="509.00" height="244.00" fill="none" stroke="#000" stroke-width="1.1"/>
<path d="M661.50 855.50V862.90" stroke="#000" stroke-width="1.1" fill="none"/>
<text x="643.39" y="876.80" font-size="12.67" textLength="35.62" lengthAdjust="spacingAndGlyphs" fill="#000">04Dec</text>
<text x="651.31" y="891.50" font-size="12.67" textLength="19.88" lengthAdjust="spacingAndGlyphs" fill="#000">00z</text>
<path d="M712.50 855.50V862.90" stroke="#000" stroke-width="1.1" fill="none"/>
<text x="694.45" y="876.80" font-size="12.67" textLength="35.50" lengthAdjust="spacingAndGlyphs" fill="#000">05Dec</text>
<text x="702.31" y="891.50" font-size="12.67" textLength="19.88" lengthAdjust="spacingAndGlyphs" fill="#000">00z</text>
<path d="M763.50 855.50V862.90" stroke="#000" stroke-width="1.1" fill="none"/>
<text x="745.45" y="876.80" font-size="12.67" textLength="35.50" lengthAdjust="spacingAndGlyphs" fill="#000">06Dec</text>
<text x="753.31" y="891.50" font-size="12.67" textLength="19.88" lengthAdjust="spacingAndGlyphs" fill="#000">00z</text>
<path d="M814.50 855.50V862.90" stroke="#000" stroke-width="1.1" fill="none"/>
<text x="796.39" y="876.80" font-size="12.67" textLength="35.62" lengthAdjust="spacingAndGlyphs" fill="#000">07Dec</text>
<text x="804.31" y="891.50" font-size="12.67" textLength="19.88" lengthAdjust="spacingAndGlyphs" fill="#000">00z</text>
<path d="M865.50 855.50V862.90" stroke="#000" stroke-width="1.1" fill="none"/>
<text x="847.39" y="876.80" font-size="12.67" textLength="35.62" lengthAdjust="spacingAndGlyphs" fill="#000">08Dec</text>
<text x="855.31" y="891.50" font-size="12.67" textLength="19.88" lengthAdjust="spacingAndGlyphs" fill="#000">00z</text>
<path d="M915.50 855.50V862.90" stroke="#000" stroke-width="1.1" fill="none"/>
<text x="897.39" y="876.80" font-size="12.67" textLength="35.62" lengthAdjust="spacingAndGlyphs" fill="#000">09Dec</text>
<text x="905.31" y="891.50" font-size="12.67" textLength="19.88" lengthAdjust="spacingAndGlyphs" fill="#000">00z</text>
<path d="M966.50 855.50V862.90" stroke="#000" stroke-width="1.1" fill="none"/>
<text x="948.45" y="876.80" font-size="12.67" textLength="35.50" lengthAdjust="spacingAndGlyphs" fill="#000">10Dec</text>
<text x="956.31" y="891.50" font-size="12.67" textLength="19.88" lengthAdjust="spacingAndGlyphs" fill="#000">00z</text>
<path d="M1017.50 855.50V862.90" stroke="#000" stroke-width="1.1" fill="none"/>
<text x="999.45" y="876.80" font-size="12.67" textLength="35.50" lengthAdjust="spacingAndGlyphs" fill="#000">11Dec</text>
<text x="1007.31" y="891.50" font-size="12.67" textLength="19.88" lengthAdjust="spacingAndGlyphs" fill="#000">00z</text>
<path d="M1068.50 855.50V862.90" stroke="#000" stroke-width="1.1" fill="none"/>
<text x="1050.39" y="876.80" font-size="12.67" textLength="35.62" lengthAdjust="spacingAndGlyphs" fill="#000">12Dec</text>
<text x="1058.31" y="891.50" font-size="12.67" textLength="19.88" lengthAdjust="spacingAndGlyphs" fill="#000">00z</text>
<path d="M1119.50 855.50V862.90" stroke="#000" stroke-width="1.1" fill="none"/>
<text x="1101.45" y="876.80" font-size="12.67" textLength="35.50" lengthAdjust="spacingAndGlyphs" fill="#000">13Dec</text>
<text x="1109.31" y="891.50" font-size="12.67" textLength="19.88" lengthAdjust="spacingAndGlyphs" fill="#000">00z</text>
<path d="M1170.50 855.50V862.90" stroke="#000" stroke-width="1.1" fill="none"/>
<text x="1152.39" y="876.80" font-size="12.67" textLength="35.62" lengthAdjust="spacingAndGlyphs" fill="#000">14Dec</text>
<text x="1160.31" y="891.50" font-size="12.67" textLength="19.88" lengthAdjust="spacingAndGlyphs" fill="#000">00z</text>
<path d="M674.50 855.50V858.80" stroke="#000" stroke-width="0.85" fill="none"/>
<path d="M686.50 855.50V858.80" stroke="#000" stroke-width="0.85" fill="none"/>
<path d="M699.50 855.50V858.80" stroke="#000" stroke-width="0.85" fill="none"/>
<path d="M725.50 855.50V858.80" stroke="#000" stroke-width="0.85" fill="none"/>
<path d="M737.50 855.50V858.80" stroke="#000" stroke-width="0.85" fill="none"/>
<path d="M750.50 855.50V858.80" stroke="#000" stroke-width="0.85" fill="none"/>
<path d="M776.50 855.50V858.80" stroke="#000" stroke-width="0.85" fill="none"/>
<path d="M788.50 855.50V858.80" stroke="#000" stroke-width="0.85" fill="none"/>
<path d="M801.50 855.50V858.80" stroke="#000" stroke-width="0.85" fill="none"/>
<path d="M826.50 855.50V858.80" stroke="#000" stroke-width="0.85" fill="none"/>
<path d="M839.50 855.50V858.80" stroke="#000" stroke-width="0.85" fill="none"/>
<path d="M852.50 855.50V858.80" stroke="#000" stroke-width="0.85" fill="none"/>
<path d="M877.50 855.50V858.80" stroke="#000" stroke-width="0.85" fill="none"/>
<path d="M890.50 855.50V858.80" stroke="#000" stroke-width="0.85" fill="none"/>
<path d="M903.50 855.50V858.80" stroke="#000" stroke-width="0.85" fill="none"/>
<path d="M928.50 855.50V858.80" stroke="#000" stroke-width="0.85" fill="none"/>
<path d="M941.50 855.50V858.80" stroke="#000" stroke-width="0.85" fill="none"/>
<path d="M954.50 855.50V858.80" stroke="#000" stroke-width="0.85" fill="none"/>
<path d="M979.50 855.50V858.80" stroke="#000" stroke-width="0.85" fill="none"/>
<path d="M992.50 855.50V858.80" stroke="#000" stroke-width="0.85" fill="none"/>
<path d="M1005.50 855.50V858.80" stroke="#000" stroke-width="0.85" fill="none"/>
<path d="M1030.50 855.50V858.80" stroke="#000" stroke-width="0.85" fill="none"/>
<path d="M1043.50 855.50V858.80" stroke="#000" stroke-width="0.85" fill="none"/>
<path d="M1055.50 855.50V858.80" stroke="#000" stroke-width="0.85" fill="none"/>
<path d="M1081.50 855.50V858.80" stroke="#000" stroke-width="0.85" fill="none"/>
<path d="M1094.50 855.50V858.80" stroke="#000" stroke-width="0.85" fill="none"/>
<path d="M1106.50 855.50V858.80" stroke="#000" stroke-width="0.85" fill="none"/>
<path d="M1132.50 855.50V858.80" stroke="#000" stroke-width="0.85" fill="none"/>
<path d="M1145.50 855.50V858.80" stroke="#000" stroke-width="0.85" fill="none"/>
<path d="M1157.50 855.50V858.80" stroke="#000" stroke-width="0.85" fill="none"/>
<path d="M654.10 855.50H661.50" stroke="#000" stroke-width="1.1" fill="none"/>
<text x="634.58" y="859.70" font-size="12.67" textLength="14.12" lengthAdjust="spacingAndGlyphs" fill="#000">20</text>
<path d="M654.10 794.50H661.50" stroke="#000" stroke-width="1.1" fill="none"/>
<text x="634.58" y="798.70" font-size="12.67" textLength="14.12" lengthAdjust="spacingAndGlyphs" fill="#000">40</text>
<path d="M654.10 733.50H661.50" stroke="#000" stroke-width="1.1" fill="none"/>
<text x="634.70" y="737.70" font-size="12.67" textLength="14.00" lengthAdjust="spacingAndGlyphs" fill="#000">60</text>
<path d="M654.10 672.50H661.50" stroke="#000" stroke-width="1.1" fill="none"/>
<text x="634.58" y="676.70" font-size="12.67" textLength="14.12" lengthAdjust="spacingAndGlyphs" fill="#000">80</text>
<path d="M654.10 611.50H661.50" stroke="#000" stroke-width="1.1" fill="none"/>
<text x="627.70" y="615.70" font-size="12.67" textLength="21.00" lengthAdjust="spacingAndGlyphs" fill="#000">100</text>
<path d="M658.20 840.50H661.50" stroke="#000" stroke-width="0.85" fill="none"/>
<path d="M658.20 825.50H661.50" stroke="#000" stroke-width="0.85" fill="none"/>
<path d="M658.20 809.50H661.50" stroke="#000" stroke-width="0.85" fill="none"/>
<path d="M658.20 779.50H661.50" stroke="#000" stroke-width="0.85" fill="none"/>
<path d="M658.20 764.50H661.50" stroke="#000" stroke-width="0.85" fill="none"/>
<path d="M658.20 748.50H661.50" stroke="#000" stroke-width="0.85" fill="none"/>
<path d="M658.20 718.50H661.50" stroke="#000" stroke-width="0.85" fill="none"/>
<path d="M658.20 703.50H661.50" stroke="#000" stroke-width="0.85" fill="none"/>
<path d="M658.20 687.50H661.50" stroke="#000" stroke-width="0.85" fill="none"/>
<path d="M658.20 657.50H661.50" stroke="#000" stroke-width="0.85" fill="none"/>
<path d="M658.20 642.50H661.50" stroke="#000" stroke-width="0.85" fill="none"/>
<path d="M658.20 626.50H661.50" stroke="#000" stroke-width="0.85" fill="none"/>
<text transform="translate(622.30,824.91) rotate(-90)" font-size="15.56" textLength="182.62" lengthAdjust="spacingAndGlyphs" fill="#000">700-500 hPa Humidity (%)</text>
<text x="1062.15" y="628.30" font-size="15.56" font-weight="bold" stroke="#000" stroke-width="0.44" stroke-linejoin="round" textLength="102.75" lengthAdjust="spacingAndGlyphs" fill="#000">Mid-Level RH</text>
<path d="M666.80 827.40H693.20" stroke="#e41a1c" stroke-width="2.78"/>
<text x="700.50" y="831.50" font-size="12.67" textLength="21.88" lengthAdjust="spacingAndGlyphs" fill="#000">GFS</text>
<path d="M666.80 841.40H693.20" stroke="#377eb8" stroke-width="2.78"/>
<text x="700.50" y="845.50" font-size="12.67" textLength="33.50" lengthAdjust="spacingAndGlyphs" fill="#000">HWRF</text>
<clipPath id="c_map"><rect x="66.5" y="335.5" width="509.0" height="509.0"/></clipPath>
<g clip-path="url(#c_map)">
<g fill="#cccccc">
<path d="M66.4 388.9 L71.7 389.5 L81.0 390.7 L88.0 393.0 L92.7 397.7 L98.5 404.7 L105.5 410.5 L111.3 413.4 L116.0 411.7 L120.7 412.2 L127.7 413.4 L134.7 412.2 L141.7 414.0 L146.3 416.1 L151.3 413.3 L156.7 410.7 L162.0 408.7 L164.7 406.7 L164.3 403.3 L162.7 400.0 L160.0 397.3 L156.7 395.3 L152.0 393.3 L147.3 392.0 L143.3 393.7 L140.7 392.3 L138.7 389.3 L134.0 390.0 L134.0 388.7 L138.7 388.3 L140.7 391.3 L143.3 392.7 L146.7 390.7 L153.3 391.0 L160.0 390.0 L167.3 388.7 L170.0 388.0 L168.7 386.0 L166.0 383.7 L163.7 381.7 L166.0 382.0 L170.0 384.0 L175.3 384.3 L176.0 382.0 L174.0 376.7 L172.7 373.3 L170.0 371.0 L172.7 371.3 L175.3 374.7 L178.0 376.3 L183.3 377.7 L185.3 375.7 L188.0 375.3 L189.3 372.7 L190.0 374.7 L191.3 372.3 L193.0 372.3 L193.3 374.3 L196.0 374.7 L197.3 375.7 L199.3 374.3 L200.7 374.3 L201.0 377.0 L203.3 378.3 L206.7 379.0 L210.0 380.0 L213.3 381.3 L222.7 382.7 L229.3 386.0 L233.3 390.0 L236.7 396.7 L240.0 402.0 L242.7 407.3 L248.0 410.0 L252.0 409.3 L250.7 414.0 L256.0 418.7 L260.0 422.0 L265.3 428.7 L269.3 432.7 L276.0 434.0 L285.3 436.0 L293.3 434.7 L301.3 437.3 L313.3 438.7 L320.0 440.7 L324.0 443.3 L326.7 447.3 L332.0 448.0 L340.0 446.0 L337.3 444.0 L333.3 442.0 L338.7 440.0 L333.3 438.0 L326.7 435.3 L318.7 432.7 L316.0 428.7 L320.0 427.3 L324.0 424.9 L313.3 424.0 L314.7 423.3 L309.3 422.0 L304.7 420.7 L304.0 416.7 L306.0 413.3 L306.7 409.3 L301.3 409.7 L294.7 411.3 L290.0 410.7 L288.0 406.7 L286.0 402.0 L281.3 398.0 L280.0 392.7 L278.0 386.7 L273.3 383.3 L268.0 382.7 L265.3 378.0 L261.3 374.0 L255.3 370.0 L253.3 363.3 L250.7 359.3 L251.3 354.7 L256.0 352.9 L266.7 352.7 L271.7 351.3 L271.3 344.7 L268.0 340.0 L262.7 335.6 L66.5 335.5Z"/>
<path d="M143.3 450.8 L146.7 455.8 L150.0 461.7 L150.8 470.0 L151.7 476.7 L158.3 480.0 L156.7 488.3 L160.8 490.0 L164.2 495.8 L164.2 501.7 L166.7 503.3 L166.7 510.0 L168.3 516.7 L167.5 523.3 L170.8 530.0 L173.3 536.7 L178.3 540.8 L183.3 538.3 L185.8 535.8 L191.7 535.0 L193.3 540.8 L198.3 544.2 L203.3 548.3 L209.2 551.7 L209.2 560.0 L208.3 565.0 L210.8 571.7 L212.5 578.3 L212.5 580.0 L213.3 586.7 L218.3 593.3 L224.2 601.7 L228.3 611.7 L230.0 620.0 L227.5 628.3 L231.7 635.0 L235.0 641.7 L234.2 646.7 L238.3 651.7 L250.3 657.5 L262.0 661.0 L266.7 668.0 L278.3 672.7 L287.7 678.5 L294.7 682.0 L292.3 687.8 L297.0 694.8 L304.0 699.5 L307.5 710.0 L311.0 720.5 L315.7 732.2 L320.4 733.3 L323.9 736.8 L323.9 726.3 L329.7 733.3 L339.0 735.7 L337.9 732.2 L342.5 740.4 L341.4 749.7 L343.7 759.0 L350.7 763.7 L355.4 768.4 L362.4 773.0 L367.0 773.0 L371.7 780.0 L376.4 785.9 L383.4 790.5 L385.7 798.7 L393.9 802.2 L393.9 812.7 L398.5 818.5 L398.5 826.7 L400.2 843.0 L400.1 844.5 L66.5 844.5 L66.7 610.8 L71.7 612.5 L78.3 616.7 L86.7 619.2 L96.7 616.7 L104.2 611.7 L105.8 605.0 L110.0 596.7 L115.0 588.3 L115.8 580.0 L117.5 578.3 L118.3 570.0 L120.8 560.0 L123.3 551.7 L120.8 541.7 L121.7 533.3 L119.2 526.7 L120.0 520.0 L123.3 511.7 L122.5 504.2 L127.5 500.0 L128.3 493.3 L124.2 490.0 L126.7 484.2 L130.0 481.7 L132.5 473.3 L135.0 463.3 L135.8 455.8Z"/>
<path d="M402.0 788.2 L404.4 794.0 L400.9 803.4 L398.5 811.5 L396.2 806.9 L398.5 798.7 L400.9 791.7Z"/>
<path d="M67.5 588.3 L70.0 587.5 L74.2 588.0 L73.3 590.0 L68.3 590.3Z"/>
<path d="M302.0 335.9 L308.0 336.7 L314.7 342.7 L324.0 342.0 L334.7 342.0 L341.3 338.0 L342.7 335.9Z"/>
<path d="M441.3 335.9 L447.3 340.7 L450.0 343.3 L450.7 348.7 L455.3 354.0 L462.0 356.0 L466.0 352.7 L465.3 347.3 L460.7 342.7 L455.3 340.7 L452.7 335.9Z"/>
<path d="M480.0 351.3 L486.0 354.7 L492.7 358.7 L495.3 363.3 L500.7 367.3 L502.7 368.9 L496.7 367.3 L491.3 364.0 L486.0 358.7 L480.7 353.3Z"/>
<path d="M481.3 375.3 L484.0 376.0 L486.7 379.3 L484.9 380.4 L482.7 378.0Z"/>
<path d="M492.7 382.7 L495.3 381.7 L496.9 384.0 L496.0 386.3 L493.3 385.3Z"/>
<path d="M501.3 386.7 L504.7 384.4 L507.1 386.7 L507.6 390.7 L504.7 390.0 L502.7 391.3 L500.0 390.3Z"/>
<path d="M499.3 396.0 L502.0 395.1 L501.7 397.7 L499.6 398.3Z"/>
<path d="M515.3 399.1 L518.0 398.7 L518.8 401.3 L516.4 402.0Z"/>
<path d="M536.7 379.3 L543.3 383.3 L552.7 388.0 L560.0 392.4 L558.3 393.1 L550.0 388.9 L540.7 384.3 L536.7 381.3Z"/>
<path d="M556.0 415.3 L560.7 418.7 L567.3 420.7 L575.7 419.3 L575.7 428.0 L567.3 427.3 L560.7 425.3 L556.7 420.7Z"/>
<path d="M327.3 414.7 L330.0 414.0 L332.0 417.3 L331.3 420.0 L328.7 418.0Z"/>
<path d="M334.9 417.3 L338.7 418.7 L342.7 419.6 L344.7 422.0 L342.7 423.3 L338.7 423.3 L336.0 420.7Z"/>
<path d="M346.0 429.3 L348.7 432.7 L352.7 433.3 L354.0 431.3 L354.7 434.7 L351.3 435.6 L348.0 434.0Z"/>
<path d="M386.0 408.9 L390.7 409.7 L394.7 411.6 L393.6 413.7 L390.7 412.4 L388.0 410.4Z"/>
<path d="M346.0 396.0 L347.3 395.6 L347.6 397.3 L346.3 397.6Z"/>
<path d="M349.1 395.3 L350.7 395.1 L350.7 396.4 L349.3 396.7Z"/>
<path d="M380.0 448.8 L381.9 448.2 L382.5 449.8 L380.6 450.1Z"/>
<path d="M390.0 448.2 L391.9 448.0 L392.0 448.9 L390.2 449.0Z"/>
<path d="M395.6 460.2 L398.1 459.8 L397.8 461.5 L396.0 461.9Z"/>
<path d="M402.5 465.9 L407.5 467.9 L413.8 470.0 L413.2 471.1 L406.9 469.5 L402.8 467.0Z"/>
<path d="M423.8 465.1 L426.9 464.8 L427.0 465.8 L424.0 466.1Z"/>
<path d="M133.9 434.9 L135.2 434.9 L135.2 435.9 L133.9 435.9Z"/>
<path d="M136.7 436.5 L138.3 436.5 L138.3 437.7 L136.7 437.7Z"/>
<path d="M134.5 448.4 L136.3 448.4 L136.3 449.6 L134.5 449.6Z"/>
<path d="M160.0 410.2 L161.7 410.2 L161.7 411.4 L160.0 411.4Z"/>
<path d="M164.8 407.9 L166.1 407.9 L166.1 408.8 L164.8 408.8Z"/>
<path d="M151.0 433.1 L152.0 433.1 L152.0 433.9 L151.0 433.9Z"/>
<path d="M152.8 429.0 L153.8 429.0 L153.8 429.7 L152.8 429.7Z"/>
<path d="M166.0 394.0 L168.7 394.7 L169.0 395.3 L166.3 394.8Z"/>
<path d="M170.0 396.0 L171.7 396.5 L171.5 397.2 L169.9 396.7Z"/>
<path d="M165.0 397.3 L167.3 398.7 L167.0 399.3 L164.8 398.0Z"/>
<path d="M160.3 410.3 L161.7 411.0 L161.3 411.9 L160.1 411.2Z"/>
</g>
<polyline points="106.3,335.5 106.3,346.3 104.3,349.2 103.8,352.8 104.9,356.2 106.3,357.4 106.3,410.5" fill="none" stroke="#fff" stroke-width="0.95" stroke-opacity="0.9"/>
<polyline points="146.3,335.5 146.9,355.1 155.7,356.2 176.7,355.1 200.0,353.9" fill="none" stroke="#fff" stroke-width="0.95" stroke-opacity="0.9"/>
<polyline points="155.7,356.6 155.7,360.6 165.0,369.7 176.7,381.3" fill="none" stroke="#fff" stroke-width="0.95" stroke-opacity="0.9"/>
<polyline points="177.8,335.8 191.8,345.2 190.1,348.7 200.0,353.3" fill="none" stroke="#fff" stroke-width="0.95" stroke-opacity="0.9"/>
<polyline points="196.5,335.8 195.9,340.5 191.8,345.2" fill="none" stroke="#fff" stroke-width="0.95" stroke-opacity="0.9"/>
<polyline points="160.0,356.7 180.0,355.3 194.7,354.0 200.0,354.7 210.7,356.7 222.7,364.0 229.3,372.7 238.7,376.0 243.3,379.3 245.3,382.7 252.0,384.4 273.3,383.6" fill="none" stroke="#fff" stroke-width="0.95" stroke-opacity="0.9"/>
<polyline points="176.0,335.9 192.7,344.7 190.0,348.7 194.7,353.3" fill="none" stroke="#fff" stroke-width="0.95" stroke-opacity="0.9"/>
<polyline points="196.7,335.9 197.3,340.7 192.7,344.7" fill="none" stroke="#fff" stroke-width="0.95" stroke-opacity="0.9"/>
<polyline points="206.7,335.9 210.0,342.0 203.3,347.3 210.7,353.3 211.3,356.4" fill="none" stroke="#fff" stroke-width="0.95" stroke-opacity="0.9"/>
<polyline points="224.0,335.9 230.7,340.7 228.0,354.0 224.0,365.3" fill="none" stroke="#fff" stroke-width="0.95" stroke-opacity="0.9"/>
<polyline points="243.3,379.3 237.3,384.0 236.7,395.3" fill="none" stroke="#fff" stroke-width="0.95" stroke-opacity="0.9"/>
<polyline points="252.0,384.4 265.3,394.0 266.7,398.0 263.3,404.7 277.3,422.0 293.3,430.7 298.7,430.0 299.3,426.7 308.0,423.3" fill="none" stroke="#fff" stroke-width="0.95" stroke-opacity="0.9"/>
<polyline points="299.3,426.7 316.0,435.3 316.0,440.0" fill="none" stroke="#fff" stroke-width="0.95" stroke-opacity="0.9"/>
<polyline points="300.0,426.3 309.3,422.0" fill="none" stroke="#fff" stroke-width="0.95" stroke-opacity="0.9"/>
<polyline points="300.0,426.3 316.0,434.7 316.3,440.0" fill="none" stroke="#fff" stroke-width="0.95" stroke-opacity="0.9"/>
<polyline points="66.5,818.6 107.8,818.6 107.8,844.5" fill="none" stroke="#fff" stroke-width="0.95" stroke-opacity="0.9"/>
<polyline points="68.2,388.1 75.2,387.2 82.2,386.0 83.9,383.1 86.6,381.6" fill="none" stroke="#fff" stroke-width="1.1" stroke-linejoin="round"/>
<polygon points="76.1,799.6 79.0,796.0 83.0,793.5 85.5,794.0 85.8,796.0 82.5,797.0 79.5,798.3 77.0,800.0" fill="#fff"/>

<polyline points="534.5,377.5 512.5,394.3 508.5,402.5 498.3,416.5 489.5,418.0 500.5,421.7 502.5,436.1 500.3,449.4 498.0,459.7 495.6,469.4 492.8,478.3 490.6,486.4 488.0,497.2 486.1,507.5 485.3,520.8 483.5,534.3 481.1,544.4 481.3,553.6 471.4,558.0 464.4,563.3" fill="none" stroke="#222222" stroke-width="2.78" stroke-linejoin="round" stroke-linecap="butt"/>
<circle cx="534.5" cy="377.5" r="3.5" fill="#222222"/>
<circle cx="498.3" cy="416.5" r="3.5" fill="#222222"/>
<circle cx="500.3" cy="449.4" r="3.5" fill="#222222"/>
<circle cx="490.6" cy="486.4" r="3.5" fill="#222222"/>
<circle cx="483.5" cy="534.3" r="3.5" fill="#222222"/>
<circle cx="512.5" cy="394.3" r="2.85" fill="#fff" stroke="#222222" stroke-width="1.35"/>
<circle cx="500.5" cy="421.7" r="2.85" fill="#fff" stroke="#222222" stroke-width="1.35"/>
<circle cx="495.6" cy="469.4" r="2.85" fill="#fff" stroke="#222222" stroke-width="1.35"/>
<circle cx="486.1" cy="507.5" r="2.85" fill="#fff" stroke="#222222" stroke-width="1.35"/>
<circle cx="481.3" cy="553.6" r="2.85" fill="#fff" stroke="#222222" stroke-width="1.35"/>
<circle cx="534.5" cy="377.5" r="3.75" fill="#222222"/>
<circle cx="534.4" cy="377.3" r="4.0" fill="#222222"/>
<polyline points="471.4,558.0 464.4,572.2 459.1,575.8 451.1,581.6 446.7,582.0 442.4,582.5 431.6,587.3 420.0,591.3 413.3,594.4 391.6,601.3 372.3,597.6 350.7,598.7 328.5,594.7 314.3,586.6 310.4,572.5 310.4,567.9 294.7,570.0 283.5,568.2 266.2,567.8 254.5,572.0 246.0,575.3 228.4,580.2 212.2,579.8" fill="none" stroke="#e41a1c" stroke-width="2.78" stroke-linejoin="round" stroke-linecap="butt"/>
<circle cx="464.4" cy="572.2" r="3.5" fill="#222222"/>
<circle cx="413.3" cy="594.4" r="3.5" fill="#222222"/>
<circle cx="328.5" cy="594.7" r="3.5" fill="#222222"/>
<circle cx="310.4" cy="567.9" r="3.5" fill="#222222"/>
<circle cx="254.5" cy="572.0" r="3.5" fill="#222222"/>
<circle cx="442.4" cy="582.5" r="2.85" fill="#fff" stroke="#222222" stroke-width="1.35"/>
<circle cx="372.3" cy="597.6" r="2.85" fill="#fff" stroke="#222222" stroke-width="1.35"/>
<circle cx="310.4" cy="572.5" r="2.85" fill="#fff" stroke="#222222" stroke-width="1.35"/>
<circle cx="283.5" cy="568.2" r="2.85" fill="#fff" stroke="#222222" stroke-width="1.35"/>
<circle cx="228.4" cy="580.2" r="2.85" fill="#fff" stroke="#222222" stroke-width="1.35"/>
<circle cx="471.4" cy="558.0" r="3.75" fill="#e41a1c"/>
<polyline points="478.7,560.4 473.3,564.7 469.6,568.4 465.3,574.9 462.7,578.0 454.5,584.4 447.6,586.0 444.0,589.6 440.4,594.4 425.3,606.0 404.4,611.3 372.3,620.4 351.6,618.3 331.3,613.1 312.4,604.4 290.2,596.7 276.4,587.7 263.2,584.2 253.5,578.3 247.2,575.5 228.0,567.4 215.5,565.2 201.0,564.7 190.5,568.5 182.2,572.5 166.2,575.2" fill="none" stroke="#377eb8" stroke-width="2.78" stroke-linejoin="round" stroke-linecap="butt"/>
<circle cx="469.6" cy="568.4" r="3.5" fill="#222222"/>
<circle cx="440.4" cy="594.4" r="3.5" fill="#222222"/>
<circle cx="351.6" cy="618.3" r="3.5" fill="#222222"/>
<circle cx="276.4" cy="587.7" r="3.5" fill="#222222"/>
<circle cx="215.5" cy="565.2" r="3.5" fill="#222222"/>
<circle cx="454.5" cy="584.4" r="2.85" fill="#fff" stroke="#222222" stroke-width="1.35"/>
<circle cx="404.4" cy="611.3" r="2.85" fill="#fff" stroke="#222222" stroke-width="1.35"/>
<circle cx="312.4" cy="604.4" r="2.85" fill="#fff" stroke="#222222" stroke-width="1.35"/>
<circle cx="247.2" cy="575.5" r="2.85" fill="#fff" stroke="#222222" stroke-width="1.35"/>
<circle cx="182.2" cy="572.5" r="2.85" fill="#fff" stroke="#222222" stroke-width="1.35"/>
<circle cx="478.7" cy="560.4" r="3.75" fill="#377eb8"/>
<polyline points="464.4,563.3 447.4,572.4 418.4,584.3 382.4,594.3 343.3,597.3 290.5,582.4 230.5,572.3 162.5,568.2" fill="none" stroke="#808080" stroke-width="2.78" stroke-linejoin="round" stroke-linecap="butt"/>
<circle cx="418.4" cy="584.3" r="3.5" fill="#222222"/>
<circle cx="343.3" cy="597.3" r="3.5" fill="#222222"/>
<circle cx="290.5" cy="582.4" r="3.5" fill="#222222"/>
<circle cx="230.5" cy="572.3" r="3.5" fill="#222222"/>
<circle cx="162.5" cy="568.2" r="3.5" fill="#222222"/>
<circle cx="447.4" cy="572.4" r="2.85" fill="#fff" stroke="#222222" stroke-width="1.35"/>
<circle cx="382.4" cy="594.3" r="2.85" fill="#fff" stroke="#222222" stroke-width="1.35"/>
<circle cx="464.4" cy="563.3" r="3.75" fill="#808080"/>
</g>
<rect x="66.5" y="335.5" width="509.0" height="509.0" fill="none" stroke="#000" stroke-width="1.1"/>
<path d="M83.50 844.50V851.90" stroke="#000" stroke-width="1.1" fill="none"/>
<text x="65.69" y="865.10" font-size="12.67" textLength="33.62" lengthAdjust="spacingAndGlyphs" fill="#000">140°E</text>
<path d="M203.50 844.50V851.90" stroke="#000" stroke-width="1.1" fill="none"/>
<text x="185.69" y="865.10" font-size="12.67" textLength="33.62" lengthAdjust="spacingAndGlyphs" fill="#000">145°E</text>
<path d="M324.50 844.50V851.90" stroke="#000" stroke-width="1.1" fill="none"/>
<text x="306.75" y="865.10" font-size="12.67" textLength="33.50" lengthAdjust="spacingAndGlyphs" fill="#000">150°E</text>
<path d="M444.50 844.50V851.90" stroke="#000" stroke-width="1.1" fill="none"/>
<text x="426.75" y="865.10" font-size="12.67" textLength="33.50" lengthAdjust="spacingAndGlyphs" fill="#000">155°E</text>
<path d="M565.50 844.50V851.90" stroke="#000" stroke-width="1.1" fill="none"/>
<text x="547.75" y="865.10" font-size="12.67" textLength="33.50" lengthAdjust="spacingAndGlyphs" fill="#000">160°E</text>
<path d="M59.10 433.50H66.50" stroke="#000" stroke-width="1.1" fill="none"/>
<text x="27.08" y="437.70" font-size="12.67" textLength="26.62" lengthAdjust="spacingAndGlyphs" fill="#000">10°S</text>
<path d="M59.10 553.50H66.50" stroke="#000" stroke-width="1.1" fill="none"/>
<text x="27.08" y="557.70" font-size="12.67" textLength="26.62" lengthAdjust="spacingAndGlyphs" fill="#000">15°S</text>
<path d="M59.10 674.50H66.50" stroke="#000" stroke-width="1.1" fill="none"/>
<text x="26.95" y="678.70" font-size="12.67" textLength="26.75" lengthAdjust="spacingAndGlyphs" fill="#000">20°S</text>
<path d="M59.10 794.50H66.50" stroke="#000" stroke-width="1.1" fill="none"/>
<text x="26.95" y="798.70" font-size="12.67" textLength="26.75" lengthAdjust="spacingAndGlyphs" fill="#000">25°S</text>
<text x="527.33" y="354.70" font-size="15.56" font-weight="bold" stroke="#000" stroke-width="0.44" stroke-linejoin="round" textLength="41.88" lengthAdjust="spacingAndGlyphs" fill="#000">Track</text>
<path d="M71.80 348.30H98.20" stroke="#222222" stroke-width="2.78"/>
<text x="105.50" y="352.40" font-size="12.67" textLength="28.50" lengthAdjust="spacingAndGlyphs" fill="#000">BEST</text>
<path d="M71.80 362.30H98.20" stroke="#e41a1c" stroke-width="2.78"/>
<text x="105.50" y="366.40" font-size="12.67" textLength="21.88" lengthAdjust="spacingAndGlyphs" fill="#000">GFS</text>
<path d="M71.80 376.30H98.20" stroke="#377eb8" stroke-width="2.78"/>
<text x="105.50" y="380.40" font-size="12.67" textLength="33.50" lengthAdjust="spacingAndGlyphs" fill="#000">HWRF</text>
<path d="M71.80 390.30H98.20" stroke="#808080" stroke-width="2.78"/>
<text x="105.50" y="394.40" font-size="12.67" textLength="28.75" lengthAdjust="spacingAndGlyphs" fill="#000">JTWC</text>
<defs>
<linearGradient id="gC" x1="40" y1="0" x2="109" y2="0" gradientUnits="userSpaceOnUse"><stop offset="0" stop-color="#20377a"/><stop offset="0.45" stop-color="#1d4a8e"/><stop offset="1" stop-color="#1f5c9f"/></linearGradient>
<linearGradient id="gE" x1="44" y1="874" x2="60" y2="890" gradientUnits="userSpaceOnUse"><stop offset="0" stop-color="#9aa79a"/><stop offset="0.35" stop-color="#b9c4c8"/><stop offset="0.55" stop-color="#4f78b0"/><stop offset="1" stop-color="#3a46a0"/></linearGradient>
<clipPath id="cC"><path d="M39 868H60.2V875.2H55V889.8H60.2V896H39Z"/></clipPath>
</defs>
<g>
<!-- NOAA emblem -->
<circle cx="20" cy="883" r="15" fill="#fff"/>
<path d="M7.75 874 A15 15 0 0 1 32 873.75 Q29.5 876.5 28 878.8 Q25.5 883.5 23.6 884.6 Q21 886 18.5 885.2 Q15.5 884 12.8 879.6 Q10.5 876.3 7.75 874Z" fill="#253e82"/>
<path d="M5.1 879 Q7.5 880.6 9.4 882.3 Q13 885.8 16.6 888 L19.5 887.3 Q23.5 887.3 27 884.8 Q30.6 882 33.5 876.6 A15 15 0 1 1 5.1 879Z" fill="#0a80cb"/>
<path d="M15.9 889.4 L18.8 887.6 L26 886.3 L20.6 888.6Z" fill="#fff"/>
<text x="13.1" y="877.7" font-size="4.4" font-weight="bold" fill="#e8ecf6" textLength="13" lengthAdjust="spacingAndGlyphs">noaa</text>
<!-- CIRA -->
<g clip-path="url(#cC)"><ellipse cx="50.2" cy="882.2" rx="10.3" ry="12.4" fill="url(#gC)"/><path d="M50.3 869.8 L60.2 870.8 V875.2 L54 875 Z M50.3 894.6 L60.2 893.7 V889.8 L54 890 Z" fill="url(#gC)"/></g>
<circle cx="52.3" cy="882.2" r="8.1" fill="url(#gE)"/>
<path d="M46 877 q2 -2.5 4.5 -2.6 q1.5 1 0.3 2.8 q-1.8 1.6 -2 3.6 q-1.6 0.8 -2.8 -3.8z" fill="#6f8a5c" opacity="0.75"/>
<path d="M45 883 q3 -1 5 0.6 q1.5 2.2 -0.5 3.6 q-2.2 1.4 -3.6 -0.6z" fill="#e4e9ee" opacity="0.7"/>
<path d="M52.5 878 q2.2 -0.8 3 1 q-0.4 2.6 -2.4 3.4 q-1.2 -1.6 -0.6 -4.4z" fill="#6ab0d8" opacity="0.6"/>
<path d="M62.2 870.2 h4.8 l-0.25 1.5 v20.9 l0.35 1.6 h-5 l0.35 -1.6 v-20.9z" fill="url(#gC)"/>
<path d="M71.3 870.3 h8 q5.6 0.6 5.7 6.2 q-0.2 4.4 -4.6 5.9 l8.6 11.8 h-5.3 l-7.6 -10.9 v9.3 l0.4 1.6 h-5.2 l0.35 -1.6 v-20.7z" fill="url(#gC)"/>
<path d="M97.4 870.4 L109.2 894.2 H87.2Z" fill="url(#gC)"/>
<path d="M92.7 890.4 L100 882.9 L101 883.6 L100.4 888.7 L101.1 894.2 H98.6 L97.8 890.2 L94.3 891.6 Z" fill="#d9e0e6"/><path d="M92.7 890.4 L100 882.9 L96.2 888.2Z" fill="#f2f4f6"/>
<path d="M75.3 873.3 l1.6 0.5 l1.6 4.2 l1.3 0.9 l-1.5 1.1 l-1.2 -1 z" fill="#9fc3d8" opacity="0.8"/>
</g>

</svg>
</body></html>
